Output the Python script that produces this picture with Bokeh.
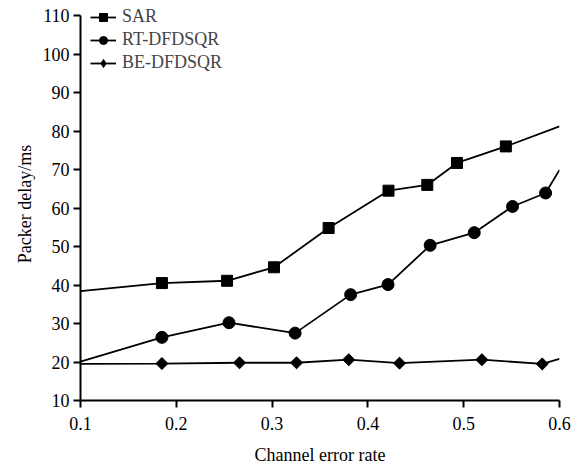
import math
from bokeh.plotting import figure
from bokeh.models import FixedTicker, Legend, LegendItem, Range1d
from bokeh.embed import file_html
from bokeh.resources import INLINE

x_ticks = [0.1, 0.2, 0.3, 0.4, 0.5, 0.6]
y_ticks = [10, 20, 30, 40, 50, 60, 70, 80, 90, 100, 110]

sar_x = [0.1, 0.185, 0.253, 0.302, 0.359, 0.4215, 0.462, 0.493, 0.544, 0.6]
sar_y = [38.4, 40.5, 41.1, 44.6, 54.8, 64.5, 66.0, 71.7, 76.0, 81.2]

rt_x = [0.1, 0.185, 0.255, 0.324, 0.382, 0.421, 0.465, 0.511, 0.551, 0.5855, 0.6]
rt_y = [20.1, 26.4, 30.2, 27.5, 37.5, 40.1, 50.3, 53.6, 60.4, 63.9, 69.9]

be_x = [0.1, 0.185, 0.266, 0.3255, 0.380, 0.433, 0.519, 0.582, 0.6]
be_y = [19.5, 19.6, 19.8, 19.8, 20.6, 19.7, 20.6, 19.5, 20.8]

FONT = "Liberation Serif"
FS = "18px"

# frame extends a little above 110 so the legend (which sits above the axis top) is not clipped
p = figure(width=574, height=468, output_backend="svg", toolbar_location=None,
           x_range=Range1d(0.1, 0.6), y_range=Range1d(10, 112.08),
           min_border_left=80, min_border_right=15, min_border_top=7, min_border_bottom=68)
p.outline_line_color = None
p.xgrid.visible = False
p.ygrid.visible = False
p.background_fill_color = "white"
p.border_fill_color = "white"

for ax in (p.xaxis[0], p.yaxis[0]):
    ax.axis_line_width = 2
    ax.major_tick_line_width = 2
    ax.major_tick_out = 7
    ax.major_tick_in = 0
    ax.minor_tick_out = 0
    ax.minor_tick_in = 0
    ax.major_label_text_font = FONT
    ax.major_label_text_font_size = FS
    ax.major_label_text_color = "black"
    ax.axis_label_text_font = FONT
    ax.axis_label_text_font_size = FS
    ax.axis_label_text_font_style = "normal"
    ax.axis_label_text_color = "black"

p.yaxis.bounds = (y_ticks[0], y_ticks[-1])
p.xaxis.ticker = FixedTicker(ticks=x_ticks)
p.yaxis.ticker = FixedTicker(ticks=y_ticks)
p.xaxis.axis_label = "Channel error rate"
p.yaxis.axis_label = "Packer delay/ms"
p.xaxis.major_label_standoff = 9
p.xaxis.axis_label_standoff = 12
p.yaxis.major_label_standoff = 4
p.yaxis.axis_label_standoff = 5

l1 = p.line(sar_x, sar_y, line_color="black", line_width=1.8)
m1 = p.scatter(sar_x[1:-1], sar_y[1:-1], marker="square", size=11, color="black")
l2 = p.line(rt_x, rt_y, line_color="black", line_width=1.8)
m2 = p.scatter(rt_x[1:-1], rt_y[1:-1], marker="circle", size=12, color="black")
l3 = p.line(be_x, be_y, line_color="black", line_width=1.8)
m3 = p.scatter(be_x[1:-1], be_y[1:-1], marker="square", size=8.5, angle=math.pi / 4, color="black")
# diamond glyph over the same points (hidden inside the rotated squares); used as legend key
k3 = p.scatter(be_x[1:-1], be_y[1:-1], marker="diamond", size=11, color="black")

legend = Legend(items=[
    LegendItem(label="SAR", renderers=[l1, m1]),
    LegendItem(label="RT-DFDSQR", renderers=[l2, m2]),
    LegendItem(label="BE-DFDSQR", renderers=[l3, k3]),
], location=(10, 327), padding=0, margin=0, spacing=2, glyph_width=26, glyph_height=20,
    label_height=20, label_standoff=6, label_text_font=FONT, label_text_font_size=FS,
    border_line_color=None, background_fill_alpha=0)
p.add_layout(legend, "center")

open("out.html", "w").write(file_html(p, INLINE))
